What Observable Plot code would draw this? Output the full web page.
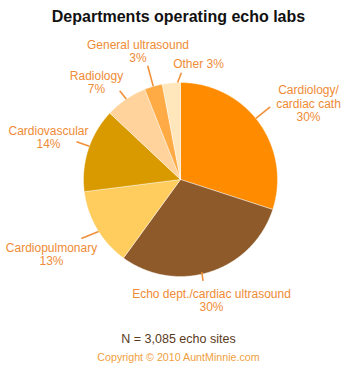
<!DOCTYPE html>
<html><head><meta charset="utf-8">
<script src="https://cdn.jsdelivr.net/npm/d3@7"></script>
<script src="https://cdn.jsdelivr.net/npm/@observablehq/plot@0.6"></script>
<style>
body{margin:0;background:#fff;font-family:"Liberation Sans",Arial,sans-serif;}
#wrap{width:357px;}
.title{font-weight:bold;font-size:16px;text-align:center;padding-top:8px;height:23px;line-height:18px;color:#111;}
.note{text-align:center;font-size:12.5px;color:#5a3a1c;padding-top:9px;line-height:18px;}
.copy{text-align:center;font-size:10.7px;color:#f0a040;line-height:18px;}
</style></head><body>
<div id="wrap">
<div class="title">Departments operating echo labs</div>
<div id="chart"></div>
<div class="note">N = 3,085 echo sites</div>
<div class="copy">Copyright © 2010 AuntMinnie.com</div>
</div>
<script>
// ---- data ----
const categories = ["Cardiology/cardiac cath","Echo dept./cardiac ultrasound","Cardiopulmonary","Cardiovascular","Radiology","General ultrasound","Other"];
const values = [30, 30, 13, 14, 7, 3, 3];
const colors = ["#ff8c00","#8e5a2a","#ffcc5e","#d99a00","#ffd39b","#ffab45","#ffe6bb"];

// ---- label layout (pixels relative to pie centre) ----
const labelLines = ["Cardiology/\ncardiac cath","Echo dept./cardiac ultrasound","Cardiopulmonary","Cardiovascular","Radiology","General ultrasound","Other"];
const labelJoin = ["\n","\n","\n","\n","\n","\n"," "];
const labelPos = [[128,-76],[31,120.5],[-129,74.5],[-132,-42.5],[-84,-97.5],[-42.5,-128.5],[18,-116]];
const leaders = [[51,51,1.0,1.19],[167,167.5,0.98,1.07],[237.6,239.2,1.0,1.19],[290,290,1.0,1.14],[326,325.6,1.0,1.11],[343.7,343.9,1.0,1.22],[358.3,0.5,1.0,1.10]];

const R = 97;
const arcs = d3.pie().sort(null).value(d => d)(values);
const slicePts = [];
arcs.forEach((a, i) => {
  slicePts.push({k: i, x: 0, y: 0});
  const n = Math.max(4, Math.ceil((a.endAngle - a.startAngle) / 0.01));
  for (let j = 0; j <= n; j++) {
    const t = a.startAngle + (a.endAngle - a.startAngle) * j / n;
    slicePts.push({k: i, x: R * Math.sin(t), y: -R * Math.cos(t)});
  }
  slicePts.push({k: i, x: 0, y: 0});
});

const rad = d => d * Math.PI / 180;
const leaderData = leaders.map(([a1, a2, r1, r2]) => ({
  x1: R * r1 * Math.sin(rad(a1)), y1: -R * r1 * Math.cos(rad(a1)),
  x2: R * r2 * Math.sin(rad(a2)), y2: -R * r2 * Math.cos(rad(a2))
}));
const labelData = categories.map((c, i) => ({
  x: labelPos[i][0], y: labelPos[i][1],
  text: labelLines[i] + labelJoin[i] + values[i] + "%"
}));

const chart = Plot.plot({
  width: 357, height: 290, margin: 0,
  style: {fontFamily: "'Liberation Sans', Arial, sans-serif", background: "#fff"},
  x: {domain: [-180, 177], range: [0, 357], axis: null},
  y: {domain: [-148, 142], range: [0, 290], axis: null},
  marks: [
    Plot.line(slicePts, {x: "x", y: "y", z: "k", fill: d => colors[d.k], stroke: "#fff", strokeWidth: 0.6, strokeOpacity: 0.7}),
    Plot.link(leaderData, {x1: "x1", y1: "y1", x2: "x2", y2: "y2", stroke: "#f0913a", strokeWidth: 1.6}),
    Plot.text(labelData, {x: "x", y: "y", text: "text", fill: "#ef8b35", fontSize: 12, lineHeight: 1.12, lineAnchor: "middle", textAnchor: "middle"})
  ]
});
document.getElementById("chart").append(chart);
</script>
</body></html>
